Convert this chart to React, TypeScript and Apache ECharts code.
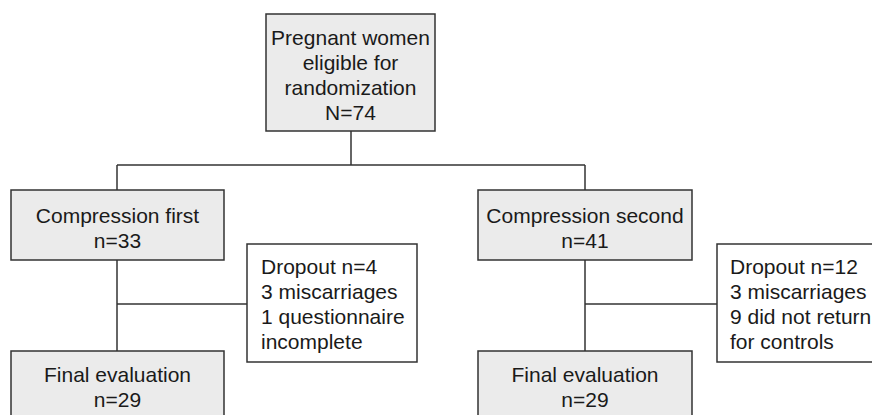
import React, { useEffect, useRef } from "react";
import * as echarts from "echarts";

const topLines = ["Pregnant women", "eligible for", "randomization", "N=74"];
const armFirst = ["Compression first", "n=33"];
const armSecond = ["Compression second", "n=41"];
const dropoutFirst = ["Dropout n=4", "3 miscarriages", "1 questionnaire", "incomplete"];
const dropoutSecond = ["Dropout n=12", "3 miscarriages", "9 did not return", "for controls"];
const finalFirst = ["Final evaluation", "n=29"];
const finalSecond = ["Final evaluation", "n=29"];

const FONT = "Liberation Sans, Arial, sans-serif";
const FS = 21;
const LH = 25;
const STROKE = "#333333";
const GRAY = "#ebebeb";

function box(x: number, y: number, w: number, h: number, fill: string) {
  return {
    type: "rect",
    shape: { x, y, width: w, height: h },
    style: { fill, stroke: STROKE, lineWidth: 1.5 },
    z: 1,
  };
}

function lines(textLines: string[], x: number, y0: number, align: "center" | "left") {
  return textLines.map((t, i) => ({
    type: "text",
    z: 3,
    style: {
      text: t,
      x,
      y: y0 + i * LH,
      fontSize: FS,
      fontFamily: FONT,
      fill: "#1a1a1a",
      align,
      verticalAlign: "middle",
    },
  }));
}

function seg(x1: number, y1: number, x2: number, y2: number) {
  return {
    type: "line",
    shape: { x1, y1, x2, y2 },
    style: { stroke: STROKE, lineWidth: 1.5 },
    z: 0,
  };
}

export default function App() {
  const ref = useRef<HTMLDivElement>(null);
  useEffect(() => {
    document.body.style.margin = "0";
    const chart = echarts.init(ref.current!, null, { renderer: "svg" });
    const elements: any[] = [
      seg(351, 131, 351, 165),
      seg(117, 165, 585, 165),
      seg(117, 165, 117, 190),
      seg(117, 260, 117, 351),
      seg(117, 304, 247, 304),
      seg(585, 165, 585, 190),
      seg(585, 260, 585, 351),
      seg(585, 304, 717, 304),
      box(266, 14, 169, 117, GRAY),
      box(11, 190, 213, 70, GRAY),
      box(478, 190, 214, 70, GRAY),
      box(247, 244, 170, 118, "#ffffff"),
      box(717, 244, 170, 118, "#ffffff"),
      box(11, 351, 213, 80, GRAY),
      box(478, 351, 214, 80, GRAY),
      ...lines(topLines, 350.5, 37, "center"),
      ...lines(armFirst, 117.5, 215, "center"),
      ...lines(armSecond, 585, 215, "center"),
      ...lines(dropoutFirst, 261, 266, "left"),
      ...lines(dropoutSecond, 730, 266, "left"),
      ...lines(finalFirst, 117.5, 374, "center"),
      ...lines(finalSecond, 585, 374, "center"),
    ];
    chart.setOption({
      animation: false,
      backgroundColor: "#ffffff",
      graphic: { elements },
    });
    return () => chart.dispose();
  }, []);
  return <div ref={ref} style={{ width: 872, height: 415 }} />;
}
